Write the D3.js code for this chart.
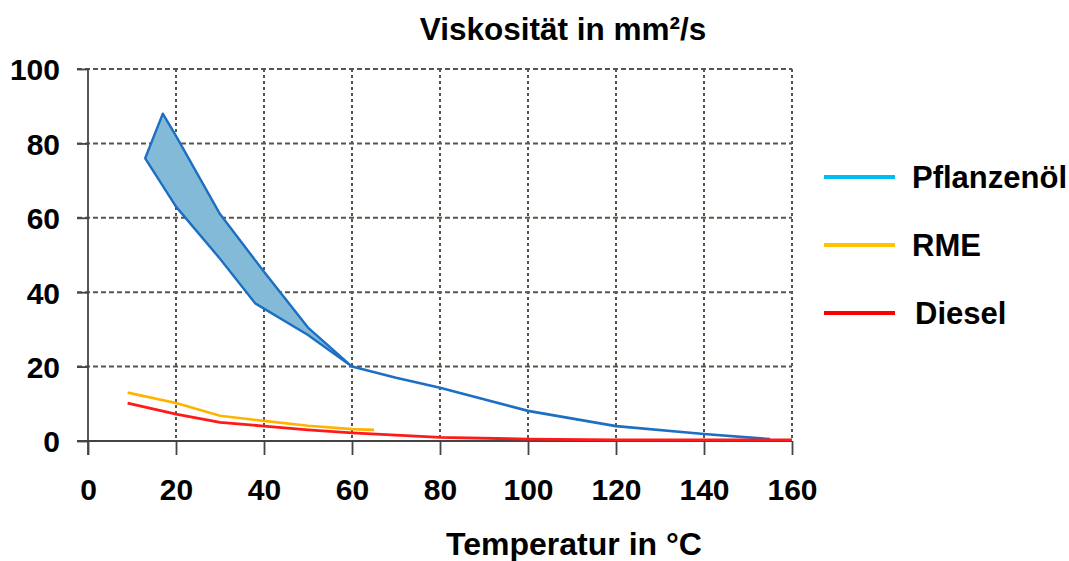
<!DOCTYPE html>
<html>
<head>
<meta charset="utf-8">
<script src="https://d3js.org/d3.v7.min.js"></script>
<style>
body { margin: 0; background: #fff; }
svg { font-family: "Liberation Sans", Arial, sans-serif; font-weight: bold; }
</style>
</head>
<body>
<svg width="1069" height="561"></svg>
<script>
// ticks
var xTicks = [0, 20, 40, 60, 80, 100, 120, 140, 160];
var yTicks = [0, 20, 40, 60, 80, 100];

// Pflanzenöl band (upper / lower edge) up to 60 °C, then a single line
var bandUpperT = [17, 20, 30, 40, 50, 60];
var bandUpperV = [88, 82, 61, 45.5, 30.5, 20];
var bandLowerT = [13, 20, 30, 38, 50, 60];
var bandLowerV = [76, 63, 49, 37, 28.5, 20];
var pflT = [60, 70, 80, 100, 120, 140, 155];
var pflV = [20, 17, 14.3, 8.1, 4, 1.9, 0.5];

var rmeT = [9, 20, 30, 40, 50, 60, 65];
var rmeV = [13, 10.2, 6.8, 5.4, 4.1, 3.2, 3];

var dieselT = [9, 20, 30, 40, 50, 60, 80, 100, 120, 160];
var dieselV = [10.2, 7.2, 5, 4, 3, 2.2, 1, 0.5, 0.3, 0.3];

var legendNames = ["Pflanzenöl", "RME", "Diesel"];
var legendColors = ["#00bff0", "#ffc400", "#ff0000"];

var svg = d3.select("svg");

var x = d3.scaleLinear().domain([0, 160]).range([88, 792]);
var y = d3.scaleLinear().domain([0, 100]).range([441, 69]);

var gridColor = "#56564a";

// horizontal grid
svg.append("g")
  .selectAll("line")
  .data(yTicks.filter(function (d) { return d > 0; }))
  .join("line")
  .attr("x1", 77).attr("x2", x(160))
  .attr("y1", function (d) { return y(d); })
  .attr("y2", function (d) { return y(d); })
  .attr("stroke", gridColor).attr("stroke-width", 2)
  .attr("stroke-dasharray", "5,3");

// vertical grid
svg.append("g")
  .selectAll("line")
  .data(xTicks.filter(function (d) { return d > 0; }))
  .join("line")
  .attr("x1", function (d) { return x(d); })
  .attr("x2", function (d) { return x(d); })
  .attr("y1", y(100)).attr("y2", y(0))
  .attr("stroke", gridColor).attr("stroke-width", 2)
  .attr("stroke-dasharray", "3,3");

// axes
var xAxis = d3.axisBottom(x).tickValues(xTicks).tickSize(14).tickPadding(24);
var gx = svg.append("g")
  .attr("transform", "translate(0," + y(0) + ")")
  .call(xAxis);
gx.select(".domain").attr("d", "M77,0H" + x(160));

var yAxis = d3.axisLeft(y).tickValues(yTicks).tickSize(11).tickPadding(17);
var gy = svg.append("g")
  .attr("transform", "translate(" + x(0) + ",0)")
  .call(yAxis);
gy.select(".domain").attr("d", "M0," + y(100) + "V455");

svg.selectAll(".domain, .tick line").attr("stroke", "#444").attr("stroke-width", 1.8);
svg.selectAll(".tick text")
  .attr("fill", "#000")
  .style("font-size", "30px")
  .style("font-family", "Liberation Sans, Arial, sans-serif")
  .style("font-weight", "bold");
gy.selectAll(".tick text").attr("dy", "0.36em");

// band
var pts = bandUpperT.map(function (t, i) { return [x(t), y(bandUpperV[i])]; });
var low = bandLowerT.map(function (t, i) { return [x(t), y(bandLowerV[i])]; }).reverse();
svg.append("path")
  .attr("d", d3.line()(pts.concat(low)) + "Z")
  .attr("fill", "#82bad7")
  .attr("stroke", "#1c6fc2")
  .attr("stroke-width", 2.4)
  .attr("stroke-linejoin", "round");

var line = d3.line()
  .x(function (d) { return x(d[0]); })
  .y(function (d) { return y(d[1]); });

function drawLine(ts, vs, color, w) {
  svg.append("path")
    .attr("d", line(ts.map(function (t, i) { return [t, vs[i]]; })))
    .attr("fill", "none")
    .attr("stroke", color)
    .attr("stroke-width", w);
}
drawLine(pflT, pflV, "#1c6fc2", 2.6);
drawLine(rmeT, rmeV, "#ffb300", 2.6);
drawLine(dieselT, dieselV, "#ff1a1a", 2.8);

// titles
svg.append("text")
  .attr("x", 563).attr("y", 40)
  .attr("text-anchor", "middle")
  .style("font-size", "31.5px")
  .text("Viskosität in mm²/s");

svg.append("text")
  .attr("x", 574).attr("y", 555)
  .attr("text-anchor", "middle")
  .style("font-size", "32px")
  .text("Temperatur in °C");

// legend
var legendY = [177, 245, 313];
legendNames.forEach(function (name, i) {
  svg.append("line")
    .attr("x1", 824).attr("x2", 895)
    .attr("y1", legendY[i]).attr("y2", legendY[i])
    .attr("stroke", legendColors[i]).attr("stroke-width", 4);
  svg.append("text")
    .attr("x", i == 2 ? 915 : 912).attr("y", legendY[i])
    .attr("dy", "0.36em")
    .style("font-size", "31px")
    .text(name);
});
</script>
</body>
</html>
